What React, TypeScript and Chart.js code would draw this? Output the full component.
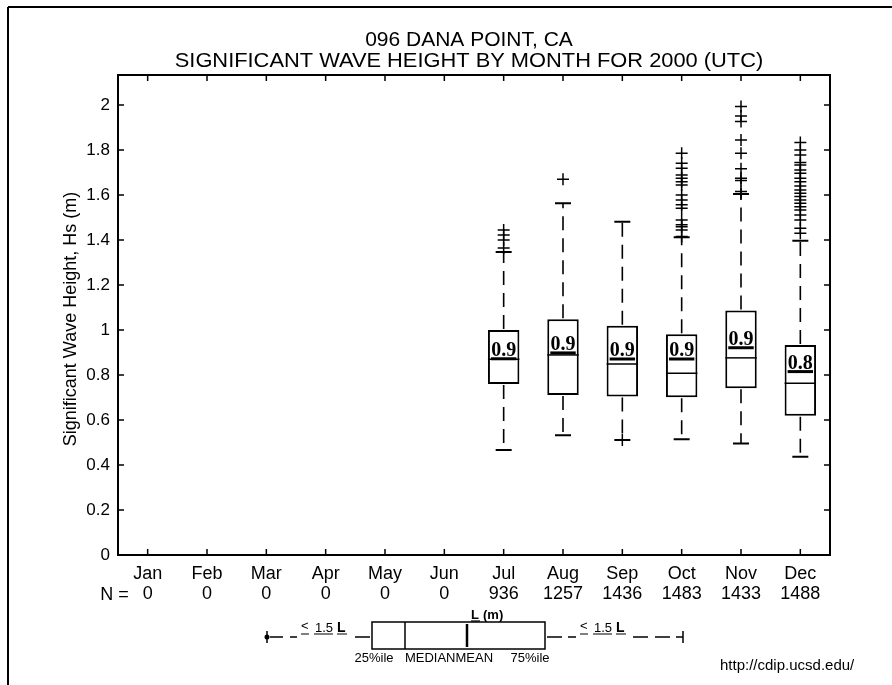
import React, { useEffect, useRef } from 'react';
import { Chart, registerables } from 'chart.js';

Chart.register(...registerables);

const months = ['Jan', 'Feb', 'Mar', 'Apr', 'May', 'Jun', 'Jul', 'Aug', 'Sep', 'Oct', 'Nov', 'Dec'];
const counts = [0, 0, 0, 0, 0, 0, 936, 1257, 1436, 1483, 1433, 1488];
const whiskerLow = [null, null, null, null, null, null, 0.467, 0.532, 0.511, 0.514, 0.496, 0.437];
const q1 = [null, null, null, null, null, null, 0.76, 0.711, 0.704, 0.701, 0.741, 0.619];
const median = [null, null, null, null, null, null, 0.87, 0.889, 0.849, 0.808, 0.876, 0.763];
const q3 = [null, null, null, null, null, null, 1.0, 1.048, 1.019, 0.981, 1.086, 0.933];
const whiskerHigh = [null, null, null, null, null, null, 1.347, 1.563, 1.481, 1.412, 1.604, 1.396];
const mean = [null, null, null, null, null, null, 0.872, 0.898, 0.871, 0.871, 0.921, 0.815];

const outliersJul = [1.444, 1.422, 1.4, 1.364];
const outliersAug = [1.67];
const outliersSep = [0.511];
const outliersOct = [1.785, 1.741, 1.719, 1.689, 1.674, 1.659, 1.644, 1.6, 1.578, 1.556, 1.541, 1.489, 1.467, 1.459, 1.444, 1.415];
const outliersNov = [1.993, 1.951, 1.926, 1.844, 1.785, 1.716, 1.674, 1.664, 1.615, 1.604];
const outliersDec = [1.833, 1.8, 1.778, 1.744, 1.733, 1.711, 1.696, 1.674, 1.659, 1.64, 1.622, 1.607, 1.593, 1.578, 1.563, 1.548, 1.533, 1.511, 1.489, 1.452, 1.43];

const yTicks = [0, 0.2, 0.4, 0.6, 0.8, 1, 1.2, 1.4, 1.6, 1.8, 2];
const yMin = 0;
const yMax = 2.133;

const titleLines = ['096 DANA POINT, CA', 'SIGNIFICANT WAVE HEIGHT BY MONTH FOR 2000 (UTC)'];
const yTitle = 'Significant Wave Height, Hs (m)';
const sourceUrl = 'http://cdip.ucsd.edu/';

const SANS = '"Liberation Sans", Arial, Helvetica, sans-serif';
const SERIF = '"Liberation Serif", "Times New Roman", serif';

function outlierPoints() {
  const pts: { x: string; y: number }[] = [];
  const add = (m: string, arr: number[]) => arr.forEach((v) => pts.push({ x: m, y: v }));
  add('Jul', outliersJul);
  add('Aug', outliersAug);
  add('Sep', outliersSep);
  add('Oct', outliersOct);
  add('Nov', outliersNov);
  add('Dec', outliersDec);
  return pts;
}

const boxPlugin = {
  id: 'boxDetails',
  afterDatasetsDraw(chart: any) {
    const ctx = chart.ctx as CanvasRenderingContext2D;
    const xs = chart.scales.x;
    const ys = chart.scales.y;
    const meta = chart.getDatasetMeta(0);
    ctx.save();
    ctx.strokeStyle = '#000';
    ctx.fillStyle = '#000';
    months.forEach((m, i) => {
      if (q1[i] == null) return;
      const el = meta.data[i];
      const cx = xs.getPixelForValue(i);
      const half = el.width / 2;
      const pq1 = ys.getPixelForValue(q1[i]);
      const pq3 = ys.getPixelForValue(q3[i]);
      const pLo = ys.getPixelForValue(whiskerLow[i]);
      const pHi = ys.getPixelForValue(whiskerHigh[i]);
      const pMed = ys.getPixelForValue(median[i]);
      const pMean = ys.getPixelForValue(mean[i]);
      // whiskers
      ctx.lineWidth = 1.6;
      ctx.setLineDash([14, 8]);
      ctx.beginPath();
      ctx.moveTo(cx, pq3 - 1);
      ctx.lineTo(cx, pHi);
      ctx.stroke();
      ctx.beginPath();
      ctx.moveTo(cx, pq1 + 1);
      ctx.lineTo(cx, pLo);
      ctx.stroke();
      ctx.setLineDash([]);
      ctx.lineWidth = 2;
      ctx.beginPath();
      ctx.moveTo(cx - 8, pHi);
      ctx.lineTo(cx + 8, pHi);
      ctx.moveTo(cx - 8, pLo);
      ctx.lineTo(cx + 8, pLo);
      ctx.stroke();
      // median
      ctx.lineWidth = 1.5;
      ctx.beginPath();
      ctx.moveTo(cx - half, pMed);
      ctx.lineTo(cx + half, pMed);
      ctx.stroke();
      // mean
      ctx.lineWidth = 3;
      ctx.beginPath();
      ctx.moveTo(cx - half + 3, pMean);
      ctx.lineTo(cx + half - 3, pMean);
      ctx.stroke();
      ctx.font = `bold 20px ${SERIF}`;
      ctx.textAlign = 'center';
      ctx.textBaseline = 'alphabetic';
      ctx.fillText((mean[i] as number).toFixed(1), cx, pMean - 3);
    });
    // axes frame with inward ticks
    const { left, right, top, bottom } = chart.chartArea;
    ctx.lineWidth = 2;
    ctx.strokeRect(left, top, right - left, bottom - top);
    ctx.lineWidth = 1.5;
    ctx.beginPath();
    yTicks.forEach((v) => {
      const py = ys.getPixelForValue(v);
      ctx.moveTo(left, py);
      ctx.lineTo(left + 6, py);
      ctx.moveTo(right, py);
      ctx.lineTo(right - 6, py);
    });
    months.forEach((m, i) => {
      const px = xs.getPixelForValue(i);
      ctx.moveTo(px, bottom);
      ctx.lineTo(px, bottom - 6);
      ctx.moveTo(px, top);
      ctx.lineTo(px, top + 6);
    });
    ctx.stroke();
    ctx.restore();
  },
  afterDraw(chart: any) {
    const ctx = chart.ctx as CanvasRenderingContext2D;
    const xs = chart.scales.x;
    const { top, bottom } = chart.chartArea;
    ctx.save();
    ctx.fillStyle = '#000';
    ctx.strokeStyle = '#000';
    // title
    ctx.font = `21px ${SANS}`;
    ctx.textAlign = 'center';
    ctx.textBaseline = 'alphabetic';
    ctx.fillText(titleLines[0], 469, 46);
    ctx.save();
    ctx.translate(469, 67);
    ctx.scale(1.04, 1);
    ctx.fillText(titleLines[1], 0, 0);
    ctx.restore();
    // y title
    ctx.save();
    ctx.translate(76, (top + bottom) / 2 + 4);
    ctx.rotate(-Math.PI / 2);
    ctx.font = `18px ${SANS}`;
    ctx.textBaseline = 'alphabetic';
    ctx.fillText(yTitle, 0, 0);
    ctx.restore();
    // N =
    ctx.font = `18px ${SANS}`;
    ctx.textAlign = 'right';
    ctx.fillText('N =', xs.getPixelForValue(0) - 19, 600);
    // legend diagram
    const ly = 637;
    ctx.lineWidth = 1.5;
    ctx.beginPath();
    ctx.arc(267, ly, 2.5, 0, Math.PI * 2);
    ctx.fill();
    ctx.beginPath();
    ctx.moveTo(267, ly - 6);
    ctx.lineTo(267, ly + 6);
    // left dashes
    ctx.moveTo(270, ly); ctx.lineTo(283, ly);
    ctx.moveTo(290, ly); ctx.lineTo(297, ly);
    ctx.moveTo(355, ly); ctx.lineTo(370, ly);
    // right dashes
    ctx.moveTo(547, ly); ctx.lineTo(562, ly);
    ctx.moveTo(568, ly); ctx.lineTo(576, ly);
    ctx.moveTo(633, ly); ctx.lineTo(648, ly);
    ctx.moveTo(655, ly); ctx.lineTo(670, ly);
    ctx.moveTo(676, ly); ctx.lineTo(683, ly);
    ctx.moveTo(683, ly - 6); ctx.lineTo(683, ly + 6);
    ctx.stroke();
    // box
    ctx.lineWidth = 1.5;
    ctx.strokeRect(372, 622, 173, 27);
    ctx.beginPath();
    ctx.moveTo(405, 622); ctx.lineTo(405, 649);
    ctx.stroke();
    ctx.lineWidth = 2.5;
    ctx.beginPath();
    ctx.moveTo(467, 624); ctx.lineTo(467, 647);
    ctx.stroke();
    // legend texts
    const lText = (x: number, y: number) => {
      ctx.textAlign = 'left';
      ctx.font = `13px ${SANS}`;
      ctx.fillText('<', x, y - 2);
      ctx.fillText('1.5', x + 14, y);
      ctx.font = `bold 14px ${SANS}`;
      ctx.fillText('L', x + 36, y);
      ctx.lineWidth = 1.2;
      ctx.beginPath();
      ctx.moveTo(x, y + 2); ctx.lineTo(x + 8, y + 2);
      ctx.moveTo(x + 13, y + 2); ctx.lineTo(x + 32, y + 2);
      ctx.moveTo(x + 36, y + 2); ctx.lineTo(x + 46, y + 2);
      ctx.stroke();
    };
    lText(301, 632);
    lText(580, 632);
    ctx.font = `bold 13px ${SANS}`;
    ctx.textAlign = 'left';
    ctx.fillText('L', 471, 619);
    ctx.fillText('(m)', 483, 619);
    ctx.lineWidth = 1.2;
    ctx.beginPath();
    ctx.moveTo(471, 621); ctx.lineTo(480, 621);
    ctx.stroke();
    ctx.font = `13px ${SANS}`;
    ctx.textAlign = 'center';
    ctx.fillText('25%ile', 374, 662);
    ctx.fillText('MEDIANMEAN', 449, 662);
    ctx.fillText('75%ile', 530, 662);
    // url
    ctx.font = `15px ${SANS}`;
    ctx.textAlign = 'left';
    ctx.fillText(sourceUrl, 720, 670);
    // page frame
    ctx.lineWidth = 2;
    ctx.beginPath();
    ctx.moveTo(8, 7); ctx.lineTo(892, 7);
    ctx.moveTo(8, 7); ctx.lineTo(8, 685);
    ctx.stroke();
    ctx.restore();
  },
};

export default function App() {
  const ref = useRef<HTMLCanvasElement | null>(null);
  useEffect(() => {
    if (!ref.current) return;
    const boxData = months.map((m, i) => (q1[i] == null ? null : [q1[i], q3[i]]));
    const chart = new Chart(ref.current, {
      type: 'bar',
      data: {
        labels: months,
        datasets: [
          {
            type: 'bar',
            data: boxData as any,
            backgroundColor: '#fff',
            borderColor: '#000',
            borderWidth: 2,
            borderSkipped: false,
            barPercentage: 0.53,
            categoryPercentage: 1,
          },
          {
            type: 'line',
            data: outlierPoints() as any,
            showLine: false,
            pointStyle: 'cross',
            pointRadius: 6,
            pointBorderWidth: 1.5,
            borderColor: '#000',
            backgroundColor: '#000',
          } as any,
        ],
      },
      options: {
        responsive: false,
        animation: false,
        layout: { padding: { left: 0, top: 75, right: 62, bottom: 0 } },
        plugins: { legend: { display: false }, tooltip: { enabled: false }, title: { display: false } },
        scales: {
          x: {
            type: 'category',
            offset: true,
            grid: { display: false, drawTicks: false },
            border: { display: false },
            ticks: {
              color: '#000',
              padding: 9,
              maxRotation: 0,
              autoSkip: false,
              font: { family: SANS, size: 18, lineHeight: 1.12 },
              callback: (v: any, i: number) => [months[i], String(counts[i])],
            },
            afterFit: (s: any) => {
              s.height = 130;
            },
          },
          y: {
            type: 'linear',
            min: yMin,
            max: yMax,
            grid: { display: false, drawTicks: false },
            border: { display: false },
            afterBuildTicks: (s: any) => {
              s.ticks = yTicks.map((v) => ({ value: v }));
            },
            ticks: {
              color: '#000',
              padding: 8,
              font: { family: SANS, size: 17 },
              callback: (v: any) => String(Math.round(Number(v) * 10) / 10),
            },
            afterFit: (s: any) => {
              s.width = 118;
            },
          },
        },
      },
      plugins: [boxPlugin],
    });
    return () => chart.destroy();
  }, []);
  return (
    <div style={{ position: 'absolute', left: 0, top: 0, width: 892, height: 685, background: '#fff' }}>
      <canvas ref={ref} width={892} height={685} style={{ display: 'block' }} />
    </div>
  );
}
